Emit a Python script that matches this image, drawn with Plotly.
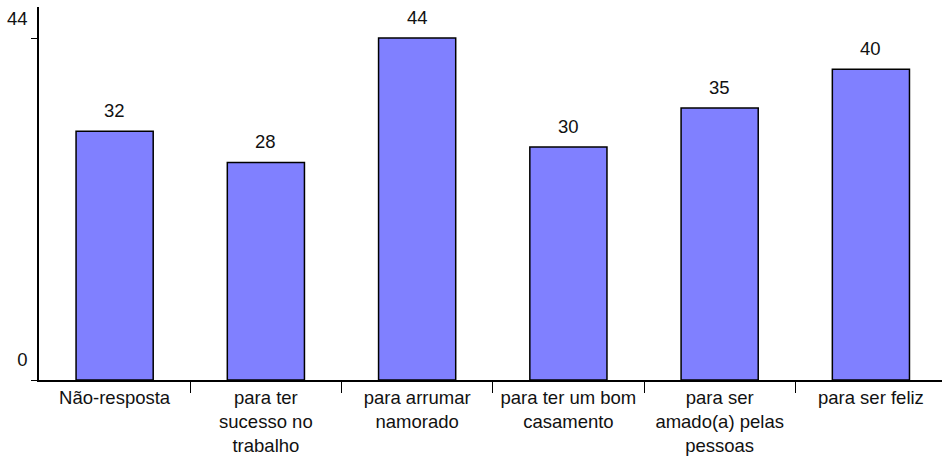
import plotly.graph_objects as go

categories = [
    "Não-resposta",
    "para ter<br>sucesso no<br>trabalho",
    "para arrumar<br>namorado",
    "para ter um bom<br>casamento",
    "para ser<br>amado(a) pelas<br>pessoas",
    "para ser feliz",
]
values = [32, 28, 44, 30, 35, 40]
y_ticks = [0, 44]

FONT = "Liberation Sans, Arial, sans-serif"
FSIZE = 18.5
TEXT = "#111"
positions = list(range(len(categories)))

fig = go.Figure(
    go.Bar(
        x=positions,
        y=values,
        width=0.51,
        marker=dict(color="#8080FF", line=dict(color="black", width=1.5)),
        hoverinfo="skip",
    )
)

# value labels above each bar
for x, v in zip(positions, values):
    fig.add_annotation(
        x=x, y=v, text=str(v), showarrow=False,
        yanchor="bottom", yshift=8,
        font=dict(family=FONT, size=FSIZE, color=TEXT),
    )

fig.update_layout(
    width=942, height=456,
    margin=dict(l=39, r=0, t=7, b=76),
    plot_bgcolor="white", paper_bgcolor="white",
    showlegend=False,
    font=dict(family=FONT, size=FSIZE, color=TEXT),
    xaxis=dict(
        range=[-0.5, 5.47],
        tickmode="array", tickvals=positions, ticktext=categories,
        ticks="", showgrid=False, zeroline=False,
        showline=True, linecolor="black", linewidth=1.5,
        minor=dict(tickmode="array", tickvals=[p + 0.5 for p in positions[:-1]],
                   ticks="outside", ticklen=11, tickcolor="black", tickwidth=1.2,
                   showgrid=False),
        tickfont=dict(family=FONT, size=FSIZE, color=TEXT),
    ),
    yaxis=dict(
        range=[0, 48],
        tickmode="array", tickvals=y_ticks, ticktext=[str(t) for t in y_ticks],
        ticks="outside", ticklen=6, tickcolor="black", tickwidth=1.2,
        showgrid=False, zeroline=False,
        showline=True, linecolor="black", linewidth=1.5,
        ticklabelshift=-20,
        tickfont=dict(family=FONT, size=FSIZE, color=TEXT),
    ),
)

fig.write_html("out.html")
